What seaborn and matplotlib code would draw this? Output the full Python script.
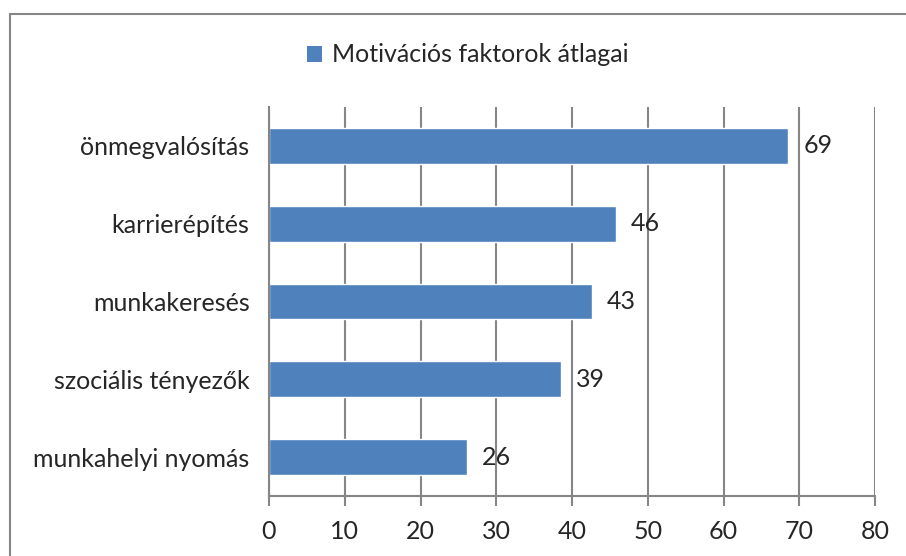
import pandas as pd
import seaborn as sns
import matplotlib.pyplot as plt
from matplotlib.lines import Line2D
from matplotlib.patches import Patch

# values (labels show the rounded numbers)
categories = ['önmegvalósítás', 'karrierépítés', 'munkakeresés', 'szociális tényezők', 'munkahelyi nyomás']
values = [68.5, 45.8, 42.6, 38.5, 26.1]
value_labels = ['69', '46', '43', '39', '26']
x_ticks = [0, 10, 20, 30, 40, 50, 60, 70, 80]
legend_label = 'Motivációs faktorok átlagai'

bar_color = '#4F81BD'
line_color = '#868686'

sns.set_style('white')
plt.rcParams['font.family'] = ['Lato', 'DejaVu Sans']

data = pd.DataFrame({'category': categories, 'value': values})

fig = plt.figure(figsize=(9.06, 5.56), dpi=100)
ax = fig.add_axes([269 / 906, 1 - 496 / 556, (875 - 269) / 906, (496 - 107) / 556])

sns.barplot(data=data, y='category', x='value', color=bar_color, width=0.46,
            orient='h', ax=ax, saturation=1)

ax.set_xlim(0, 80)
ax.set_ylim(4.5, -0.5)
ax.set_xticks(x_ticks)
ax.set_xticklabels([str(t) for t in x_ticks])
ax.set_xlabel('')
ax.set_ylabel('')

# gridlines and axis look like the Excel original
ax.grid(axis='x', color=line_color, linewidth=1.5)
ax.set_axisbelow(True)
for side in ['top', 'right']:
    ax.spines[side].set_visible(False)
for side in ['left', 'bottom']:
    ax.spines[side].set_color(line_color)
    ax.spines[side].set_linewidth(1.5)

ax.set_yticks([i - 0.5 for i in range(len(categories) + 1)], minor=True)
ax.tick_params(axis='y', which='major', length=0, pad=14, labelsize=18)
ax.tick_params(axis='y', which='minor', length=5, width=1.5, color=line_color, direction='out')
ax.tick_params(axis='x', which='major', length=7, width=1.5, color=line_color,
               direction='out', bottom=True, pad=10, labelsize=18)

for container in ax.containers:
    ax.bar_label(container, labels=value_labels, padding=11, fontsize=18)

fig.legend(handles=[Patch(facecolor=bar_color, edgecolor='none')], labels=[legend_label],
           loc='center', bbox_to_anchor=(468 / 906, 1 - 55 / 556), frameon=False,
           fontsize=18, handlelength=0.6, handleheight=0.6, handletextpad=0.4)

# outer chart border (top and left visible in the crop)
fig.add_artist(Line2D([10 / 906, 1], [1 - 14 / 556, 1 - 14 / 556], color=line_color, linewidth=1.5))
fig.add_artist(Line2D([10 / 906, 10 / 906], [0, 1 - 14 / 556], color=line_color, linewidth=1.5))

fig.savefig('out.png', dpi=100)
